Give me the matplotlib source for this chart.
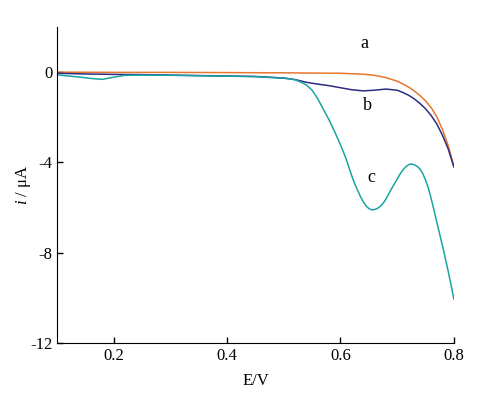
import matplotlib.pyplot as plt

# curve a (orange)
e_a = [0.10, 0.20, 0.30, 0.40, 0.50, 0.60, 0.64, 0.66, 0.68, 0.70, 0.71,
       0.72, 0.73, 0.74, 0.75, 0.76, 0.77, 0.78, 0.79, 0.80]
i_a = [0.0, -0.01, -0.01, -0.02, -0.03, -0.05, -0.09, -0.14, -0.24, -0.40, -0.52,
       -0.66, -0.83, -1.03, -1.27, -1.57, -1.98, -2.55, -3.25, -4.15]

# curve b (dark blue)
e_b = [0.10, 0.15, 0.20, 0.25, 0.30, 0.35, 0.40, 0.45, 0.50, 0.52, 0.54,
       0.56, 0.58, 0.60, 0.62, 0.64, 0.66, 0.68, 0.70, 0.71, 0.72, 0.73,
       0.74, 0.75, 0.76, 0.77, 0.78, 0.79, 0.80]
i_b = [-0.05, -0.08, -0.10, -0.11, -0.13, -0.15, -0.17, -0.19, -0.26, -0.33, -0.45,
       -0.53, -0.60, -0.69, -0.78, -0.83, -0.80, -0.75, -0.80, -0.90, -1.02, -1.18,
       -1.38, -1.62, -1.92, -2.30, -2.80, -3.40, -4.20]

# curve c (teal)
e_c = [0.10, 0.12, 0.14, 0.16, 0.18, 0.20, 0.22, 0.25, 0.30, 0.35, 0.40,
       0.45, 0.50, 0.51, 0.52, 0.53, 0.54, 0.55, 0.56, 0.57, 0.58,
       0.59, 0.60, 0.605, 0.61, 0.615, 0.62, 0.625, 0.63, 0.635, 0.64,
       0.645, 0.65, 0.655, 0.66, 0.665, 0.67, 0.675, 0.68, 0.685, 0.69, 0.695,
       0.70, 0.705, 0.71, 0.715, 0.72, 0.725, 0.73, 0.735, 0.74, 0.745, 0.75,
       0.755, 0.76, 0.765, 0.77, 0.775, 0.78, 0.785, 0.79, 0.795, 0.80]
i_c = [-0.12, -0.17, -0.22, -0.28, -0.32, -0.22, -0.14, -0.13, -0.14, -0.16, -0.18,
       -0.20, -0.27, -0.29, -0.34, -0.44, -0.57, -0.80, -1.18, -1.65, -2.12,
       -2.65, -3.22, -3.52, -3.85, -4.22, -4.60, -4.93, -5.22, -5.50, -5.74,
       -5.92, -6.04, -6.10, -6.09, -6.04, -5.95, -5.82, -5.63, -5.40, -5.17, -4.95,
       -4.74, -4.52, -4.34, -4.20, -4.10, -4.07, -4.10, -4.17, -4.28, -4.48, -4.78,
       -5.13, -5.60, -6.12, -6.65, -7.17, -7.70, -8.25, -8.82, -9.42, -10.05]

plt.rcParams['font.family'] = ['Liberation Serif', 'DejaVu Serif']
plt.rcParams['font.size'] = 12
plt.rcParams['mathtext.fontset'] = 'custom'
plt.rcParams['mathtext.rm'] = 'Liberation Serif'
plt.rcParams['mathtext.it'] = 'Liberation Serif:italic'

fig = plt.figure(figsize=(4.88, 3.99), dpi=100)
ax = fig.add_axes([0.1168, 0.1404, 0.8132, 0.7919])

ax.plot(e_a, i_a, color='#e8772e', lw=1.1)
ax.plot(e_b, i_b, color='#2e2c82', lw=1.1)
ax.plot(e_c, i_c, color='#1aa3a3', lw=1.1)

ax.text(0.643, 1.28, 'a', ha='center', va='center', fontsize=13)
ax.text(0.648, -1.46, 'b', ha='center', va='center', fontsize=13)
ax.text(0.655, -4.65, 'c', ha='center', va='center', fontsize=13)

ax.set_xlim(0.1, 0.8)
ax.set_ylim(-12, 2)
ax.set_xticks([0.2, 0.4, 0.6, 0.8])
ax.set_xticklabels(['0.2', '0.4', '0.6', '0.8'])
ax.set_yticks([0, -4, -8, -12])
ax.set_yticklabels(['0', '-4', '-8', '-12'])
ax.tick_params(direction='in', length=4, width=1)
ax.spines['top'].set_visible(False)
ax.spines['right'].set_visible(False)
ax.set_xlabel('E/V')
ax.set_ylabel(r'$i$ / μA')
ax.xaxis.set_label_coords(0.5, -0.095)
ax.yaxis.set_label_coords(-0.06, 0.5)

fig.savefig('out.png')
